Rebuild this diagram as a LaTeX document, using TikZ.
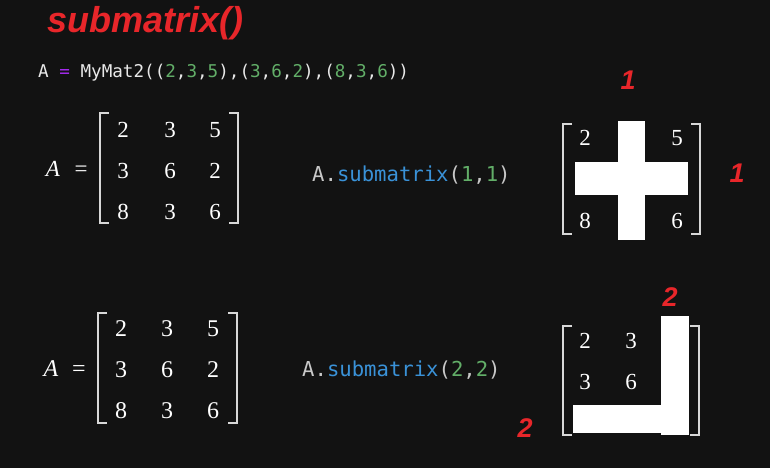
\documentclass[tikz,border=0pt]{standalone}
\usepackage{fontspec}
\setmainfont{Liberation Serif}
\newfontfamily\codefont{DejaVu Sans Mono}
\newfontfamily\handfont{Liberation Sans}
\definecolor{bgc}{HTML}{121212}
\definecolor{redc}{HTML}{E8262A}
\definecolor{codewhite}{HTML}{E8E8E8}
\definecolor{codegray}{HTML}{C8C8C8}
\definecolor{numgreen}{HTML}{62AE68}
\definecolor{fnblue}{HTML}{3A92D8}
\definecolor{eqpurple}{HTML}{A52AF0}
\definecolor{brkc}{HTML}{D8D8D8}
\newcommand\gn[1]{\textcolor{numgreen}{#1}}
\newcommand\mylb[3]{\draw[brk] (#1+9,#2) -- (#1,#2) -- (#1,#3) -- (#1+9,#3);}
\newcommand\myrb[3]{\draw[brk] (#1-9,#2) -- (#1,#2) -- (#1,#3) -- (#1-9,#3);}
\begin{document}
\begin{tikzpicture}[x=1pt,y=-1pt,
  code/.style={font=\codefont\fontsize{17.6}{20}\selectfont, text=codewhite, anchor=base west, inner sep=0pt},
  callcode/.style={font=\codefont\fontsize{20.6}{22}\selectfont, text=codegray, anchor=base west, inner sep=0pt},
  entry/.style={font=\fontsize{23}{25}\selectfont, text=white, anchor=base, inner sep=0pt},
  entryb/.style={font=\fontsize{24}{26}\selectfont, text=white, anchor=base, inner sep=0pt},
  brk/.style={draw=brkc, line width=1.7pt},
  blockout/.style={fill=white, draw=none},
  redmark/.style={font=\handfont\bfseries\itshape\fontsize{27}{29}\selectfont, text=redc, inner sep=0pt},
]
\fill[bgc] (0,0) rectangle (770,468);
\useasboundingbox (0,0) rectangle (770,468);

% title
\node[font=\handfont\bfseries\itshape\fontsize{36}{38}\selectfont, text=redc, anchor=base west, inner sep=0pt] (title) at (47,33) {submatrix()};

% code line
\node[code] (codeA) at (38,78) {A \textcolor{eqpurple}{=} MyMat2((\gn{2},\gn{3},\gn{5}),(\gn{3},\gn{6},\gn{2}),(\gn{8},\gn{3},\gn{6}))};

% matrix 1
\node[entry] (A1) at (53,176) {\textit{A}};
\node[entry] (eq1) at (81,176) {=};
\mylb{100}{113}{223}
\myrb{238}{113}{223}
\node[entry] (m1a) at (123,137) {2};
\node[entry] (m1b) at (170,137) {3};
\node[entry] (m1c) at (215,137) {5};
\node[entry] (m1d) at (123,178) {3};
\node[entry] (m1e) at (170,178) {6};
\node[entry] (m1f) at (215,178) {2};
\node[entry] (m1g) at (123,219) {8};
\node[entry] (m1h) at (170,219) {3};
\node[entry] (m1i) at (215,219) {6};

% call 1
\node[callcode] (call1) at (312,181) {A.\textcolor{fnblue}{submatrix}(\gn{1},\gn{1})};

% matrix 3 (result 1)
\mylb{563}{124}{234}
\myrb{700}{124}{234}
\node[entry] (r1a) at (585,145) {2};
\node[entry] (r1b) at (677,145) {5};
\node[entry] (r1c) at (585,228) {8};
\node[entry] (r1d) at (677,228) {6};
\fill[blockout] (618,121) rectangle (645,240);
\fill[blockout] (575,162) rectangle (688,195);
\node[redmark] (one1) at (628,80) {1};
\node[redmark] (one2) at (737,173) {1};

% matrix 2
\node[entryb] (A2) at (51,376) {\textit{A}};
\node[entryb] (eq2) at (79,376) {=};
\mylb{98}{313}{423}
\myrb{237}{313}{423}
\node[entryb] (m2a) at (121,336) {2};
\node[entryb] (m2b) at (167,336) {3};
\node[entryb] (m2c) at (213,336) {5};
\node[entryb] (m2d) at (121,377) {3};
\node[entryb] (m2e) at (167,377) {6};
\node[entryb] (m2f) at (213,377) {2};
\node[entryb] (m2g) at (121,418) {8};
\node[entryb] (m2h) at (167,418) {3};
\node[entryb] (m2i) at (213,418) {6};

% call 2
\node[callcode] (call2) at (302,376) {A.\textcolor{fnblue}{submatrix}(\gn{2},\gn{2})};

% matrix 4 (result 2)
\mylb{563}{326}{435}
\myrb{699}{326}{435}
\node[entry] (r2a) at (585,348) {2};
\node[entry] (r2b) at (631,348) {3};
\node[entry] (r2c) at (585,389) {3};
\node[entry] (r2d) at (631,389) {6};
\fill[blockout] (661,316) rectangle (689,435);
\fill[blockout] (573,405) rectangle (689,433);
\node[redmark] (two1) at (670,297) {2};
\node[redmark] (two2) at (525,428) {2};
\end{tikzpicture}
\end{document}
